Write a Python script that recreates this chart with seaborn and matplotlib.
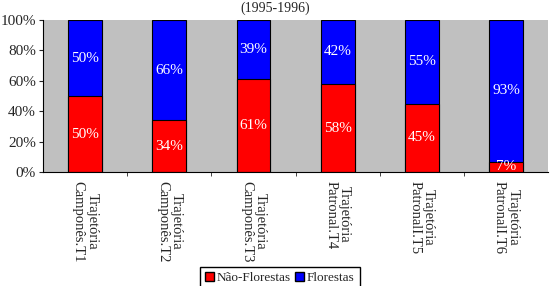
import matplotlib
matplotlib.use("Agg")
import matplotlib.pyplot as plt
import pandas as pd
import seaborn as sns
from matplotlib.patches import Patch

sns.set_style("white")
plt.rcParams['font.family'] = ['Liberation Serif', 'DejaVu Serif']

# data
trajetorias = ['Trajetória\nCamponês.T1', 'Trajetória\nCamponês.T2', 'Trajetória\nCamponês.T3',
               'Trajetória\nPatronal.T4', 'Trajetória\nPatronalI.T5', 'Trajetória\nPatronalI.T6']
nao_florestas = [50, 34, 61, 58, 45, 7]
florestas = [50, 66, 39, 42, 55, 93]

df = pd.DataFrame({'traj': trajetorias, 'nf': nao_florestas, 'f': florestas})
df['total'] = df['nf'] + df['f']
df['nf_pct'] = df['nf'] / df['total'] * 100
df['tot_pct'] = 100.0

fig = plt.figure(figsize=(5.51, 2.86), dpi=100)
ax = fig.add_axes([0.078, 0.398, 0.917, 0.532])
ax.set_facecolor('#c0c0c0')

sns.barplot(data=df, x='traj', y='tot_pct', color='#0000ff', width=0.4,
            edgecolor='black', linewidth=0.8, saturation=1, ax=ax)
sns.barplot(data=df, x='traj', y='nf_pct', color='#ff0000', width=0.4,
            edgecolor='black', linewidth=0.8, saturation=1, ax=ax)

# value labels
for i, row in df.iterrows():
    ax.text(i, row['nf_pct'] / 2, f"{row['nf']}%", ha='center', va='center',
            color='white', fontsize=11)
    ax.text(i, row['nf_pct'] + (100 - row['nf_pct']) / 2, f"{row['f']}%",
            ha='center', va='center', color='white', fontsize=11)

ax.set_ylim(0, 100)
ax.set_xlim(-0.5, len(df) - 0.5)
ax.set_yticks(range(0, 101, 20))
ax.set_yticklabels([f'{v}%' for v in range(0, 101, 20)], fontsize=11)
ax.set_xticks(range(len(df)))
ax.set_xticklabels(df['traj'], rotation=270, fontsize=10.5, va='top', ha='center',
                   multialignment='center', linespacing=1.05)
ax.tick_params(axis='x', length=0, pad=6)
ax.tick_params(axis='y', length=3, left=True, direction='out', pad=2)
# category boundary ticks
ax.set_xticks([i + 0.5 for i in range(len(df) - 1)], minor=True)
ax.tick_params(axis='x', which='minor', length=3, bottom=True, direction='out')
ax.set_xlabel('')
ax.set_ylabel('')
for s in ['top', 'right']:
    ax.spines[s].set_visible(False)
for s in ['left', 'bottom']:
    ax.spines[s].set_color('black')
    ax.spines[s].set_linewidth(0.8)

fig.text(0.5, 0.972, '(1995-1996)', ha='center', va='center', fontsize=10)

handles = [Patch(facecolor='#ff0000', edgecolor='black', label='Não-Florestas'),
           Patch(facecolor='#0000ff', edgecolor='black', label='Florestas')]
fig.legend(handles=handles, loc='upper center', bbox_to_anchor=(0.508, 0.09), ncol=2,
           frameon=True, fancybox=False, edgecolor='black', fontsize=9.5,
           handlelength=0.7, handleheight=0.7, handletextpad=0.2, columnspacing=0.3,
           borderpad=0.4, framealpha=1)

fig.savefig('out.png', dpi=100)
